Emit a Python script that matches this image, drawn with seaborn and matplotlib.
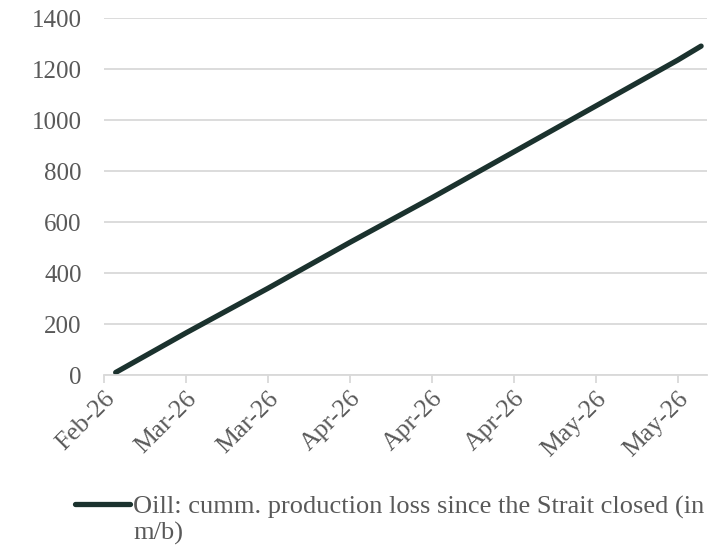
import pandas as pd
import seaborn as sns
import matplotlib.pyplot as plt
import matplotlib.dates as mdates

# values
dates = ["2026-02-20", "2026-03-04", "2026-03-18", "2026-04-01", "2026-04-15",
         "2026-04-29", "2026-05-13", "2026-05-27", "2026-05-31"]
loss = [10, 165, 340, 520, 695, 875, 1055, 1235, 1290]
tick_dates = ["2026-02-18", "2026-03-04", "2026-03-18", "2026-04-01",
              "2026-04-15", "2026-04-29", "2026-05-13", "2026-05-27"]
y_ticks = [0, 200, 400, 600, 800, 1000, 1200, 1400]
label_1 = "Oill: cumm. production loss since the Strait closed (in"
label_2 = "m/b)"

sns.set_theme(style="white")
plt.rcParams["font.family"] = ["Liberation Serif", "DejaVu Serif"]

line_color = "#1b322e"
text_color = "#595959"
grid_color = "#d9d9d9"

df = pd.DataFrame({"date": pd.to_datetime(dates), "loss": loss})

fig = plt.figure(figsize=(7.2, 5.47), dpi=100)
ax = fig.add_axes([0.1444, 0.3144, 0.8375, 0.6526])

sns.lineplot(data=df, x="date", y="loss", ax=ax, color=line_color,
             linewidth=3.8, solid_capstyle="round", label=label_1, legend=False)

ax.set_ylim(0, 1400)
ax.set_yticks(y_ticks)
ax.set_xlim(pd.Timestamp("2026-02-18"), pd.Timestamp("2026-06-01"))
ax.set_xticks(pd.to_datetime(tick_dates))
ax.xaxis.set_major_formatter(mdates.DateFormatter("%b-%y"))

ax.grid(axis="y", color=grid_color, linewidth=1.3)
ax.set_axisbelow(True)
for s in ["top", "right", "left"]:
    ax.spines[s].set_visible(False)
ax.spines["bottom"].set_color(grid_color)
ax.spines["bottom"].set_linewidth(1.3)

ax.tick_params(axis="y", length=0, pad=16, labelsize=18, labelcolor=text_color)
ax.tick_params(axis="x", bottom=True, length=6, width=1.3, color=grid_color,
               pad=3, labelsize=18.5, labelcolor=text_color)
for lab in ax.get_xticklabels():
    lab.set_rotation(45)
    lab.set_ha("right")
    lab.set_va("top")
    lab.set_rotation_mode("anchor")

ax.set_xlabel("")
ax.set_ylabel("")

leg = fig.legend(*ax.get_legend_handles_labels(), loc="center left",
                 bbox_to_anchor=(0.104, 0.0735), frameon=False, fontsize=19,
                 handlelength=2.1, handletextpad=0.1, borderpad=0,
                 borderaxespad=0, labelcolor=text_color)

fig.canvas.draw()
txt = leg.get_texts()[0]
bb = txt.get_window_extent().transformed(fig.transFigure.inverted())
fig.text(bb.x0, max(bb.y0 - 27 / 547, 0.004), label_2, fontsize=19,
         color=text_color, ha="left", va="bottom")

fig.savefig("out.png", dpi=100)
